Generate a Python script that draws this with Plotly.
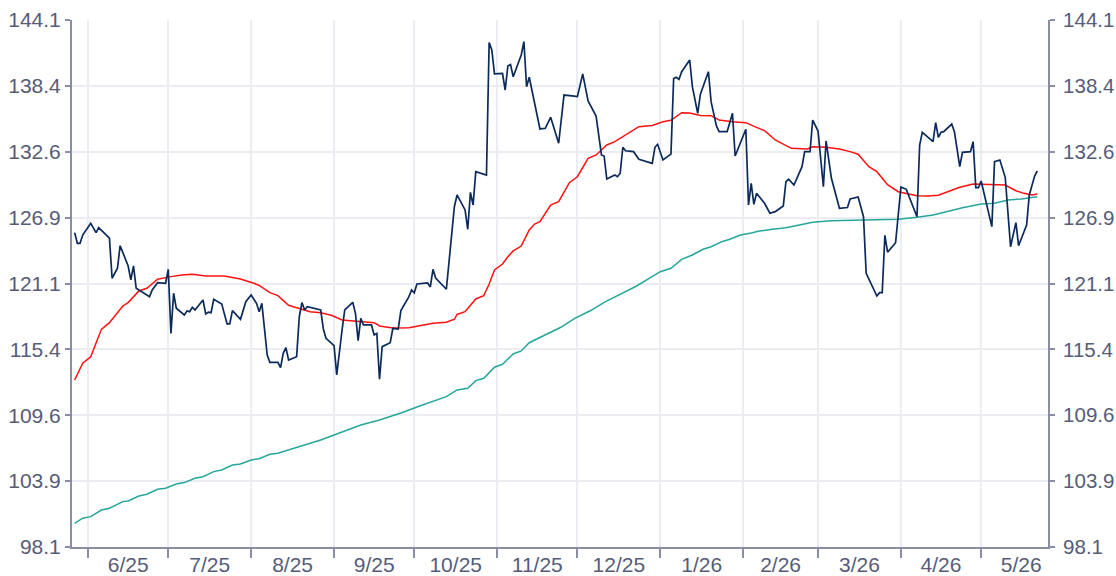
import plotly.graph_objects as go

# ---- data ----
price_dates = [
    "2025-05-27","2025-05-28","2025-05-29","2025-05-30","2025-06-02","2025-06-04","2025-06-05","2025-06-09",
    "2025-06-10","2025-06-12","2025-06-13","2025-06-16","2025-06-17","2025-06-18","2025-06-19","2025-06-24",
    "2025-06-25","2025-06-27","2025-06-30","2025-07-01","2025-07-02","2025-07-03","2025-07-04","2025-07-07",
    "2025-07-08","2025-07-09","2025-07-10","2025-07-11","2025-07-14","2025-07-15","2025-07-16","2025-07-17",
    "2025-07-18","2025-07-21","2025-07-23","2025-07-24","2025-07-25","2025-07-28","2025-07-30","2025-08-01",
    "2025-08-03","2025-08-04","2025-08-05","2025-08-07","2025-08-08","2025-08-11","2025-08-12","2025-08-13",
    "2025-08-14","2025-08-15","2025-08-18","2025-08-19","2025-08-20","2025-08-21","2025-08-22","2025-08-27",
    "2025-08-28","2025-08-29","2025-09-01","2025-09-02","2025-09-04","2025-09-05","2025-09-08","2025-09-09",
    "2025-09-10","2025-09-11","2025-09-12","2025-09-15","2025-09-16","2025-09-17","2025-09-18","2025-09-19",
    "2025-09-22","2025-09-23","2025-09-25","2025-09-26","2025-09-29","2025-09-30","2025-10-01","2025-10-02",
    "2025-10-06","2025-10-07","2025-10-08","2025-10-09","2025-10-13","2025-10-16","2025-10-17","2025-10-20",
    "2025-10-21","2025-10-22","2025-10-23","2025-10-24","2025-10-28","2025-10-29","2025-10-30","2025-10-31",
    "2025-11-03","2025-11-04","2025-11-05","2025-11-06","2025-11-07","2025-11-10","2025-11-11","2025-11-12",
    "2025-11-13","2025-11-17","2025-11-19","2025-11-21","2025-11-24","2025-11-26","2025-11-29","2025-12-01",
    "2025-12-03","2025-12-05","2025-12-08","2025-12-10","2025-12-11","2025-12-12","2025-12-15","2025-12-16",
    "2025-12-17","2025-12-18","2025-12-19","2025-12-22","2025-12-24","2025-12-29","2025-12-30","2025-12-31",
    "2026-01-02","2026-01-05","2026-01-06","2026-01-07","2026-01-08","2026-01-09","2026-01-12","2026-01-13",
    "2026-01-15","2026-01-16","2026-01-19","2026-01-20","2026-01-22","2026-01-23","2026-01-26","2026-01-28",
    "2026-01-29","2026-02-02","2026-02-03","2026-02-04","2026-02-05","2026-02-06","2026-02-09","2026-02-11",
    "2026-02-13","2026-02-16","2026-02-17","2026-02-18","2026-02-20","2026-02-23","2026-02-24","2026-02-26",
    "2026-02-27","2026-03-01","2026-03-03","2026-03-04","2026-03-06","2026-03-09","2026-03-12","2026-03-13",
    "2026-03-16","2026-03-18","2026-03-19","2026-03-23","2026-03-24","2026-03-25","2026-03-26","2026-03-27",
    "2026-03-30","2026-04-01","2026-04-03","2026-04-07","2026-04-08","2026-04-09","2026-04-13","2026-04-14",
    "2026-04-15","2026-04-16","2026-04-17","2026-04-20","2026-04-21","2026-04-23","2026-04-24","2026-04-27",
    "2026-04-28","2026-04-29","2026-04-30","2026-05-01","2026-05-05","2026-05-06","2026-05-08","2026-05-10",
    "2026-05-12","2026-05-14","2026-05-15","2026-05-18","2026-05-19","2026-05-21","2026-05-22",
]
price_values = [
    125.54,124.61,124.61,125.33,126.36,125.54,125.97,125.05,
    121.56,122.43,124.40,122.63,121.41,122.63,120.68,119.95,
    120.53,121.17,121.12,122.34,116.75,120.25,118.94,118.35,
    118.70,118.64,119.02,118.79,119.66,118.44,118.59,118.55,
    119.72,119.31,117.57,117.57,118.73,117.98,119.51,120.10,
    119.37,118.64,119.37,114.86,114.22,114.22,113.75,115.01,
    115.50,114.42,114.71,118.20,119.43,118.79,119.08,118.79,
    117.13,116.32,115.67,113.12,117.04,118.79,119.46,118.50,
    116.11,118.06,117.48,117.48,116.61,116.75,112.74,115.59,
    115.93,117.19,117.13,118.73,119.95,120.53,120.29,121.06,
    121.15,120.80,122.34,121.58,120.60,127.80,128.83,127.52,
    125.83,129.06,127.95,130.86,130.57,142.14,141.48,139.39,
    139.43,137.99,140.09,140.22,139.15,141.05,142.21,138.28,
    139.10,134.59,134.65,135.61,133.34,137.55,137.47,137.41,
    139.39,137.03,135.72,132.32,132.23,130.22,130.57,130.42,
    130.72,132.99,132.69,132.61,131.94,131.59,132.99,133.25,
    131.88,132.39,138.99,139.10,138.92,139.59,140.61,138.28,
    135.96,137.62,139.59,136.97,134.85,134.35,134.35,135.96,
    132.23,134.56,127.95,129.85,128.01,128.97,128.10,127.23,
    127.37,127.87,129.99,130.20,129.70,131.30,132.61,132.61,
    135.37,134.41,129.55,133.54,130.28,127.67,127.73,128.48,
    128.65,126.93,121.99,120.01,120.30,120.30,125.31,123.83,
    124.66,129.52,129.32,126.93,133.19,134.30,133.48,135.14,
    133.86,134.30,134.35,135.02,134.35,131.30,132.55,132.61,
    133.48,129.46,129.46,130.05,126.06,131.73,131.88,130.37,
    124.31,126.41,124.40,126.21,128.83,130.48,130.92,
]

ma_fast_dates = [
    "2025-05-27","2025-05-30","2025-06-02","2025-06-06","2025-06-09","2025-06-14","2025-06-16","2025-06-20",
    "2025-06-23","2025-06-27","2025-07-02","2025-07-06","2025-07-10","2025-07-15","2025-07-22","2025-07-28",
    "2025-08-02","2025-08-04","2025-08-08","2025-08-11","2025-08-15","2025-08-19","2025-08-23","2025-08-27",
    "2025-08-31","2025-09-04","2025-09-10","2025-09-16","2025-09-18","2025-09-23","2025-09-29","2025-10-03",
    "2025-10-08","2025-10-13","2025-10-16","2025-10-17","2025-10-20","2025-10-24","2025-10-27","2025-10-29",
    "2025-10-31","2025-11-03","2025-11-05","2025-11-07","2025-11-10","2025-11-13","2025-11-15","2025-11-17",
    "2025-11-21","2025-11-24","2025-11-28","2025-12-01","2025-12-05","2025-12-08","2025-12-12","2025-12-15",
    "2025-12-20","2025-12-24","2025-12-29","2026-01-02","2026-01-05","2026-01-09","2026-01-12","2026-01-16",
    "2026-01-20","2026-01-23","2026-01-28","2026-02-02","2026-02-06","2026-02-09","2026-02-13","2026-02-15",
    "2026-02-19","2026-02-25","2026-02-27","2026-03-04","2026-03-09","2026-03-13","2026-03-16","2026-03-20",
    "2026-03-23","2026-03-27","2026-03-31","2026-04-07","2026-04-11","2026-04-15","2026-04-19","2026-04-23",
    "2026-04-28","2026-05-01","2026-05-06","2026-05-10","2026-05-14","2026-05-17","2026-05-20","2026-05-22",
]
ma_fast_values = [
    112.68,114.14,114.71,117.10,117.68,119.14,119.43,120.45,
    120.68,121.47,121.70,121.84,121.90,121.76,121.76,121.49,
    121.12,120.94,120.30,120.04,119.20,118.94,118.64,118.55,
    118.33,117.92,117.77,117.68,117.39,117.22,117.24,117.42,
    117.63,117.72,117.98,118.40,118.64,119.75,120.04,121.06,
    122.28,122.80,123.44,123.94,124.37,125.77,126.29,126.50,
    127.95,128.24,129.90,130.42,132.03,132.32,133.19,133.48,
    134.21,134.79,134.89,135.22,135.35,136.01,135.98,135.76,
    135.75,135.37,135.22,135.14,134.73,134.44,133.63,133.39,
    132.90,132.84,133.04,133.00,132.84,132.61,132.38,131.30,
    130.86,129.72,129.11,128.76,128.74,128.80,129.17,129.50,
    129.79,129.76,129.70,129.70,129.20,128.97,128.83,128.91,
]

ma_slow_dates = [
    "2025-05-27","2025-05-30","2025-06-02","2025-06-06","2025-06-09","2025-06-14","2025-06-16","2025-06-20",
    "2025-06-23","2025-06-27","2025-06-30","2025-07-04","2025-07-07","2025-07-11","2025-07-14","2025-07-18",
    "2025-07-21","2025-07-25","2025-07-28","2025-08-01","2025-08-04","2025-08-08","2025-08-11","2025-08-15",
    "2025-08-19","2025-08-27","2025-09-03","2025-09-11","2025-09-18","2025-09-26","2025-10-03","2025-10-10",
    "2025-10-13","2025-10-17","2025-10-21","2025-10-24","2025-10-27","2025-10-31","2025-11-03","2025-11-07",
    "2025-11-10","2025-11-13","2025-11-19","2025-11-25","2025-11-30","2025-12-06","2025-12-11","2025-12-17",
    "2025-12-23","2025-12-28","2026-01-01","2026-01-05","2026-01-09","2026-01-13","2026-01-17","2026-01-20",
    "2026-01-24","2026-01-27","2026-01-31","2026-02-04","2026-02-07","2026-02-12","2026-02-17","2026-02-22",
    "2026-02-27","2026-03-06","2026-03-16","2026-03-25","2026-03-31","2026-04-07","2026-04-13","2026-04-18",
    "2026-04-24","2026-05-01","2026-05-06","2026-05-11","2026-05-16","2026-05-22",
]
ma_slow_values = [
    100.17,100.61,100.75,101.33,101.48,102.06,102.12,102.55,
    102.70,103.14,103.23,103.60,103.72,104.10,104.24,104.68,
    104.82,105.26,105.35,105.70,105.81,106.19,106.28,106.57,
    106.80,107.44,108.05,108.75,109.19,109.80,110.41,110.99,
    111.22,111.81,111.95,112.62,112.83,113.79,114.05,114.95,
    115.21,115.93,116.61,117.30,118.05,118.74,119.45,120.15,
    120.86,121.56,122.13,122.43,123.21,123.59,124.09,124.31,
    124.75,124.96,125.33,125.51,125.68,125.83,125.97,126.21,
    126.44,126.58,126.64,126.64,126.70,126.88,127.08,127.37,
    127.72,128.04,128.10,128.39,128.48,128.68,
]

y_ticks = [98.1, 103.85, 109.6, 115.35, 121.1, 126.85, 132.6, 138.35, 144.1]
y_tick_text = ["98.1", "103.9", "109.6", "115.4", "121.1", "126.9", "132.6", "138.4", "144.1"]
x_range = ["2025-05-26", "2026-05-26"]

# ---- styling ----
FONT = "Liberation Sans, Arial, sans-serif"
TEXT = "#565c78"
AXIS = "#8a8ea4"
GRID = "#ececf3"

fig = go.Figure()
fig.add_trace(go.Scatter(x=ma_slow_dates, y=ma_slow_values, mode="lines",
                         line=dict(color="#26a69a", width=1.5), showlegend=False))
fig.add_trace(go.Scatter(x=ma_fast_dates, y=ma_fast_values, mode="lines",
                         line=dict(color="#ff1111", width=1.5), showlegend=False))
# price drawn against the right-hand axis (identical range) so that axis is rendered
fig.add_trace(go.Scatter(x=price_dates, y=price_values, mode="lines", yaxis="y2",
                         line=dict(color="#0b2a5c", width=1.7), showlegend=False))

yaxis_common = dict(
    range=[98.1, 144.1], tickmode="array", tickvals=y_ticks, ticktext=y_tick_text,
    showline=True, linecolor=AXIS, linewidth=2, ticks="outside", ticklen=5,
    tickcolor=AXIS, tickwidth=2, zeroline=False, automargin=False,
)

fig.update_layout(
    width=1116, height=576,
    margin=dict(l=72, r=68, t=20, b=29),
    paper_bgcolor="white", plot_bgcolor="white",
    xaxis=dict(
        type="date", range=x_range, tick0="2025-06-01", dtick="M1",
        tickformat="%-m/%y", ticklabelmode="period", automargin=False,
        showline=True, linecolor=AXIS, linewidth=2,
        ticks="outside", ticklen=9, tickcolor=AXIS, tickwidth=2,
        ticklabelstandoff=-11,
        showgrid=True, gridcolor=GRID, gridwidth=1.5, zeroline=False,
        tickfont=dict(family=FONT, size=21, color=TEXT),
    ),
    yaxis=dict(showgrid=True, gridcolor=GRID, gridwidth=1.5, side="left",
               tickfont=dict(family=FONT, size=21, color=TEXT), **yaxis_common),
    yaxis2=dict(overlaying="y", side="right", showgrid=False, anchor="x",
                ticklabelstandoff=4,
                tickfont=dict(family=FONT, size=20.5, color=TEXT), **yaxis_common),
)

fig.write_html("out.html", config={"displayModeBar": False},
               post_script="document.body.style.margin='0';")
